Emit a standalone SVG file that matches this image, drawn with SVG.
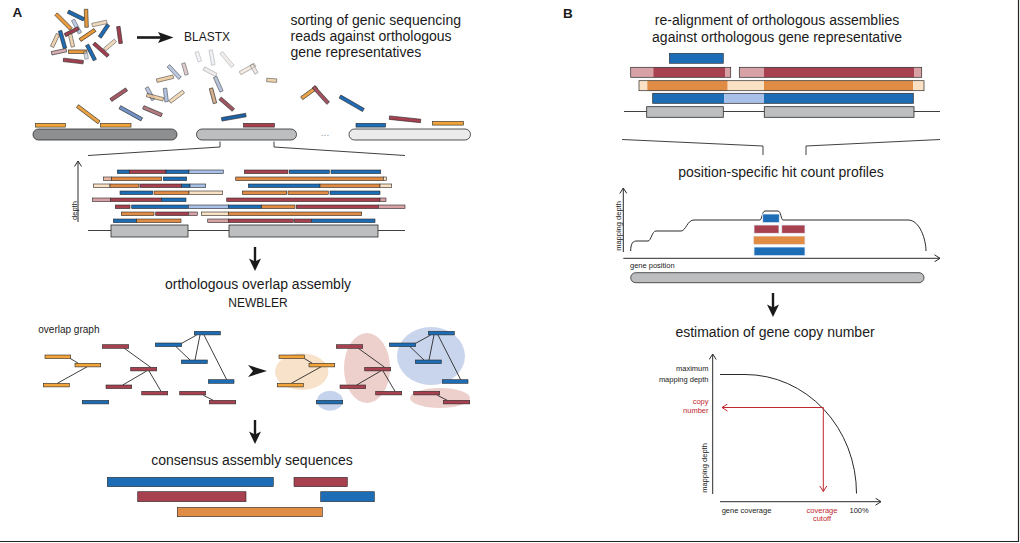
<svg xmlns="http://www.w3.org/2000/svg" width="1020" height="543" viewBox="0 0 1020 543">
<defs>
<style>
text{font-family:"Liberation Sans",Arial,sans-serif;fill:#1a1a1a}
.t14{font-size:14px}
.t11{font-size:12px}
.t10{font-size:10px}
.t7{font-size:7.5px}
.lab{font-size:13.5px;font-weight:bold}
.red{fill:#C0262D}
.s{stroke:#2a2a2a;stroke-width:0.6}
.b{fill:#1C6DB5}.r{fill:#A7404F}.o{fill:#E08C45}.lb{fill:#A9C0E8}.cr{fill:#FBE1C4}.pk{fill:#D7A1A6}.po{fill:#EBB9A0}.yo{fill:#F2A33A}
.gr{fill:#BDBEC0;stroke:#2a2a2a;stroke-width:0.8}
.ln{stroke:#2a2a2a;stroke-width:0.9;fill:none}
.ax{stroke:#2a2a2a;stroke-width:1;fill:none}
.rl{stroke:#C0262D;stroke-width:1;fill:none}
.ol{fill:none;stroke:#2a2a2a;stroke-width:0.7}
.pb{stroke:#E8F0FA;stroke-width:0.8}
</style>
<marker id="av" markerWidth="8" markerHeight="8" refX="6" refY="4" orient="auto" markerUnits="userSpaceOnUse"><path d="M0.5,0.5 L6,4 L0.5,7.5" fill="none" stroke="#2a2a2a" stroke-width="1"/></marker>
<marker id="avr" markerWidth="8" markerHeight="8" refX="6" refY="4" orient="auto" markerUnits="userSpaceOnUse"><path d="M0.5,0.5 L6,4 L0.5,7.5" fill="none" stroke="#C0262D" stroke-width="1"/></marker>
<g id="graph">
<g class="ln">
<line x1="70" y1="358.3" x2="78.3" y2="363.3"/><line x1="87.3" y1="366.7" x2="57.3" y2="383.3"/>
<line x1="124.3" y1="348.3" x2="150.7" y2="367.3"/><line x1="146.7" y1="371" x2="122.7" y2="385"/><line x1="149" y1="371" x2="161" y2="391.3"/>
<line x1="181.7" y1="343.3" x2="196.7" y2="335"/><line x1="176" y1="346.7" x2="190" y2="360"/><line x1="200" y1="335" x2="195" y2="360"/><line x1="204" y1="335" x2="226.7" y2="379.7"/>
<line x1="203.3" y1="395.3" x2="213.3" y2="400.3"/>
</g>
<rect class="s yo" x="45" y="355" width="25.7" height="3.6"/>
<rect class="s yo" x="75" y="363.3" width="25.7" height="3.6"/>
<rect class="s yo" x="43.3" y="383.3" width="26" height="3.6"/>
<rect class="s r" x="102.3" y="344.7" width="26.4" height="3.6"/>
<rect class="s r" x="130.7" y="367.3" width="26" height="3.6"/>
<rect class="s r" x="106" y="385" width="25.7" height="3.6"/>
<rect class="s r" x="141.7" y="391.3" width="26" height="3.6"/>
<rect class="s b" x="82.3" y="400.3" width="26.4" height="3.6"/>
<rect class="s b" x="194.3" y="331.3" width="26" height="3.6"/>
<rect class="s b" x="155.3" y="343" width="26.4" height="3.6"/>
<rect class="s b" x="181.3" y="360" width="26" height="3.6"/>
<rect class="s b" x="208.3" y="379.7" width="25.7" height="3.6"/>
<rect class="s r" x="179.7" y="391.3" width="26" height="3.6"/>
<rect class="s r" x="209.3" y="400.3" width="26.4" height="3.6"/>
</g>
</defs>

<rect x="0" y="0" width="1020" height="543" fill="#ffffff"/>
<line x1="1018.5" y1="0" x2="1018.5" y2="542" stroke="#222" stroke-width="1.2"/>
<line x1="0" y1="541.5" x2="1019" y2="541.5" stroke="#222" stroke-width="1.2"/>

<g id="panelA">
<text class="lab" x="12.5" y="17">A</text>

<g id="read-cluster">
<rect class="s" fill="#E89A3C" x="-10.5" y="-1.75" width="21" height="3.5" transform="translate(63.5 21.5) rotate(45)"/>
<rect class="s" fill="#1F6CB4" x="-8.75" y="-1.75" width="17.5" height="3.5" transform="translate(76 15.5) rotate(26)"/>
<rect class="s" fill="#E89A3C" x="-9" y="-1.75" width="18" height="3.5" transform="translate(86.3 18.3) rotate(88)"/>
<rect class="s" fill="#9FB5DC" opacity="0.7" x="-7.5" y="-1.75" width="15" height="3.5" transform="translate(76.5 26.5) rotate(62)"/>
<rect class="s" fill="#EAC9A0" opacity="0.7" x="-7.5" y="-1.75" width="15" height="3.5" transform="translate(99.5 23.5) rotate(-12)"/>
<rect class="s" fill="#1F6CB4" x="-7.5" y="-1.75" width="15" height="3.5" transform="translate(104 31) rotate(-56)"/>
<rect class="s" fill="#A0404F" x="-8.5" y="-1.75" width="17" height="3.5" transform="translate(119.5 35) rotate(82)"/>
<rect class="s" fill="#A0404F" x="-7.5" y="-1.75" width="15" height="3.5" transform="translate(71.7 31.7) rotate(-27)"/>
<rect class="s" fill="#E89A3C" x="-9" y="-1.75" width="18" height="3.5" transform="translate(87.5 35) rotate(-34)"/>
<rect class="s" fill="#1F6CB4" x="-9" y="-1.75" width="18" height="3.5" transform="translate(62.5 39.5) rotate(74)"/>
<rect class="s" fill="#EAC9A0" opacity="0.8" x="-7" y="-1.75" width="14" height="3.5" transform="translate(55 40.5) rotate(-65)"/>
<rect class="s" fill="#EAC9A0" opacity="0.8" x="-6.5" y="-1.75" width="13" height="3.5" transform="translate(71.5 40.5) rotate(77)"/>
<rect class="s" fill="#D9AEB2" x="-7.5" y="-1.75" width="15" height="3.5" transform="translate(59 51.7) rotate(-12)"/>
<rect class="s" fill="#E89A3C" x="-9" y="-1.75" width="18" height="3.5" transform="translate(77.5 51.7)"/>
<rect class="s" fill="#1F6CB4" x="-8.5" y="-1.75" width="17" height="3.5" transform="translate(91 52.5) rotate(63)"/>
<rect class="s" fill="#A0404F" x="-9.5" y="-1.75" width="19" height="3.5" transform="translate(101 49.7) rotate(41.6)"/>
<rect class="s" fill="#EAC9A0" opacity="0.7" x="-7" y="-1.75" width="14" height="3.5" transform="translate(110 45) rotate(-40)"/>
<rect class="s" fill="#A0404F" x="-10" y="-1.75" width="20" height="3.5" transform="translate(73.3 61) rotate(6.5)"/>
<rect class="s" fill="#B7C3D8" opacity="0.6" x="-4" y="-1.75" width="8" height="3.5" transform="translate(86 55) rotate(80)"/>
</g>

<g id="blastx-arrow">
<line x1="137" y1="37.5" x2="162" y2="37.5" stroke="#1a1a1a" stroke-width="2.6"/>
<polygon points="158,32 173.5,37.5 158,43 161,37.5" fill="#1a1a1a"/>
</g>
<text x="184" y="41" style="font-size:12px">BLASTX</text>
<text class="t14" x="290.5" y="24.5">sorting of genic sequencing</text>
<text class="t14" x="290.5" y="40.5">reads against orthologous</text>
<text class="t14" x="290.5" y="56.5">gene representatives</text>

<g id="scattered-reads">
<rect class="s" fill="#E9A040" x="-13.5" y="-1.75" width="27" height="3.5" transform="translate(88.2 114.2) rotate(37)"/>
<rect class="s" fill="#A55A65" x="-9.5" y="-1.75" width="19" height="3.5" transform="translate(118.7 94.7) rotate(-34)"/>
<rect class="s" fill="#7393C8" x="-12.5" y="-1.75" width="25" height="3.5" transform="translate(130.8 113.3) rotate(29)"/>
<rect class="s" fill="#B57C80" x="-10" y="-1.75" width="20" height="3.5" transform="translate(152.5 111.2) rotate(23)"/>
<rect class="s" fill="#A9B9DD" opacity="0.8" x="-7" y="-1.75" width="14" height="3.5" transform="translate(150 93.7) rotate(62)"/>
<rect class="s" fill="#EDC590" opacity="0.8" x="-8.5" y="-1.75" width="17" height="3.5" transform="translate(165 78.7) rotate(-13.5)"/>
<rect class="s" fill="#AABAD9" opacity="0.8" x="-8.5" y="-1.75" width="17" height="3.5" transform="translate(174.2 72) rotate(47)"/>
<rect class="s" fill="#D4B5B8" opacity="0.7" x="-6" y="-1.75" width="12" height="3.5" transform="translate(185 69) rotate(74)"/>
<rect class="s" fill="#EEC48E" opacity="0.8" x="-8.5" y="-1.75" width="17" height="3.5" transform="translate(155 97.2) rotate(14.5)"/>
<rect class="s" fill="#9FB3DB" opacity="0.8" x="-6.75" y="-1.75" width="13.5" height="3.5" transform="translate(165.8 95) rotate(83)"/>
<rect class="s" fill="#F0D2A8" opacity="0.8" x="-8.5" y="-1.75" width="17" height="3.5" transform="translate(176.7 96.7) rotate(-37)"/>
<rect class="s" fill="#DDE3EE" opacity="0.35" x="-5" y="-1.75" width="10" height="3.5" transform="translate(198.3 56.7) rotate(72)"/>
<rect class="s" fill="#D3DAEA" opacity="0.35" x="-7.5" y="-1.75" width="15" height="3.5" transform="translate(212 57.5) rotate(80)"/>
<rect class="s" fill="#D9C9C9" opacity="0.35" x="-9" y="-1.75" width="18" height="3.5" transform="translate(227 59.5) rotate(50)"/>
<rect class="s" fill="#D9D2D2" opacity="0.4" x="-7" y="-1.75" width="14" height="3.5" transform="translate(210 71.7) rotate(28)"/>
<rect class="s" fill="#A8B8D8" opacity="0.8" x="-8" y="-1.75" width="16" height="3.5" transform="translate(218.3 84.2) rotate(66)"/>
<rect class="s" fill="#D6B08A" x="-7.75" y="-1.75" width="15.5" height="3.5" transform="translate(213 95.8) rotate(75)"/>
<rect class="s" fill="#9E5560" x="-8.8" y="-1.75" width="17.6" height="3.5" transform="translate(226.7 104.2) rotate(41)"/>
<rect class="s" fill="#1F63A6" x="-12.3" y="-1.75" width="24.6" height="3.5" transform="translate(233.8 117.2) rotate(-10)"/>
<rect class="s" fill="#EAD8C8" opacity="0.5" x="-8.5" y="-1.75" width="17" height="3.5" transform="translate(247.5 69) rotate(-29)"/>
<rect class="s" fill="#E3D1CF" opacity="0.5" x="-5" y="-1.75" width="10" height="3.5" transform="translate(254 69) rotate(60)"/>
<rect class="s" fill="#EDCB96" opacity="0.8" x="-5" y="-1.75" width="10" height="3.5" transform="translate(271.7 80.3) rotate(4)"/>
<rect class="s" fill="#E9A248" x="-9.3" y="-1.75" width="18.6" height="3.5" transform="translate(309.2 92.8) rotate(-36)"/>
<rect class="s" fill="#A0525E" x="-11" y="-1.75" width="22" height="3.5" transform="translate(320.8 95) rotate(48)"/>
<rect class="s" fill="#1F6CB4" x="-13.5" y="-1.75" width="27" height="3.5" transform="translate(351.7 103.3) rotate(30)"/>
<rect class="s" fill="#A7404F" x="-15.7" y="-1.75" width="31.4" height="3.5" transform="translate(405 119.3) rotate(6)"/>
</g>

<g id="gene-bars">
<rect x="33" y="129" width="144" height="11" rx="5.5" fill="#8E8F91" stroke="#2a2a2a" stroke-width="0.8"/>
<rect x="196.5" y="129" width="100" height="11" rx="5.5" fill="#BDBEC0" stroke="#2a2a2a" stroke-width="0.8"/>
<rect x="349" y="129" width="121.5" height="11" rx="5.5" fill="#EBEBEB" stroke="#2a2a2a" stroke-width="0.8"/>
<text x="325" y="136" text-anchor="middle" style="font-size:10px;fill:#999">...</text>
<rect class="s yo" x="35.5" y="123.3" width="30" height="3.8"/>
<rect class="s yo" x="100.5" y="123.3" width="30.5" height="3.8"/>
<rect class="s r" x="243.5" y="123.3" width="31" height="3.8"/>
<rect class="s b" x="356" y="123.3" width="29.5" height="3.8"/>
<rect class="s yo" x="432.5" y="121.3" width="31" height="3.8"/>
</g>

<g id="zoom-lines-a" class="ln">
<polyline points="88,155.5 220,147 220,141.5"/>
<polyline points="274,141.5 274,147 405,155.5"/>
</g>

<g id="depth-stack">
<line x1="78" y1="222" x2="78" y2="161" class="ax" marker-end="url(#av)"/>
<text class="t7" transform="translate(76.5 210.5) rotate(-90)" text-anchor="middle">depth</text>
<g class="ln"><line x1="88" y1="230.5" x2="111" y2="230.5"/><line x1="188" y1="230.5" x2="229" y2="230.5"/><line x1="378" y1="230.5" x2="405" y2="230.5"/></g>
<rect class="gr" x="111" y="225" width="77" height="12"/>
<rect class="gr" x="229" y="225" width="149" height="12"/>
<rect class="s b" x="117.3" y="170" width="12" height="3.6"/><rect class="s r" x="129.3" y="170" width="36.7" height="3.6"/><rect class="s b" x="166" y="170" width="23" height="3.6"/><rect class="s lb" x="189" y="170" width="34.3" height="3.6"/>
<rect class="s r" x="244.3" y="170" width="43.7" height="3.6"/><rect class="s b" x="289.3" y="170" width="40" height="3.6"/><rect class="s b" x="331" y="170" width="49.7" height="3.6"/>
<rect class="s po" x="103.3" y="177" width="8.4" height="3.6"/><rect class="s o" x="111.7" y="177" width="50" height="3.6"/><rect class="s b" x="163.3" y="177" width="23.4" height="3.6"/>
<rect class="s o" x="235.7" y="177" width="147.6" height="3.6"/><rect class="s cr" x="383.3" y="177" width="3.4" height="3.6"/>
<rect class="s cr" x="93.3" y="184" width="16.7" height="3.6"/><rect class="s o" x="110" y="184" width="29" height="3.6"/><rect class="s r" x="140" y="184" width="41.7" height="3.6"/><rect class="s b" x="181.7" y="184" width="8.3" height="3.6"/><rect class="s lb" x="190" y="184" width="15.7" height="3.6"/>
<rect class="s b" x="248.3" y="184" width="71.7" height="3.6"/><rect class="s o" x="320" y="184" width="60" height="3.6"/><rect class="s cr" x="380" y="184" width="11.7" height="3.6"/>
<rect class="s b" x="120" y="191" width="32.7" height="3.6"/><rect class="s o" x="154" y="191" width="35" height="3.6"/><rect class="s cr" x="189" y="191" width="33.7" height="3.6"/>
<rect class="s o" x="242.3" y="191" width="44.4" height="3.6"/><rect class="s o" x="288" y="191" width="40.3" height="3.6"/><rect class="s b" x="330" y="191" width="50" height="3.6"/>
<rect class="s pk" x="92.3" y="198" width="18.4" height="3.6"/><rect class="s r" x="110.7" y="198" width="51" height="3.6"/><rect class="s b" x="161.7" y="198" width="24.3" height="3.6"/>
<rect class="s r" x="226.7" y="198" width="153.3" height="3.6"/><rect class="s pk" x="380" y="198" width="6" height="3.6"/>
<rect class="s r" x="115.3" y="205" width="14.7" height="3.6"/><rect class="s b" x="131.7" y="205" width="56.6" height="3.6"/><rect class="s lb" x="188.3" y="205" width="40" height="3.6"/><rect class="s b" x="228.3" y="205" width="33.4" height="3.6"/><rect class="s o" x="261.7" y="205" width="33.3" height="3.6"/><rect class="s r" x="296.3" y="205" width="82" height="3.6"/><rect class="s pk" x="378.3" y="205" width="26.7" height="3.6"/>
<rect class="s o" x="121.3" y="212" width="32.7" height="3.6"/><rect class="s r" x="155.7" y="212" width="32.6" height="3.6"/><rect class="s pk" x="188.3" y="212" width="9" height="3.6"/>
<rect class="s cr" x="201.3" y="212" width="27" height="3.6"/><rect class="s o" x="228.3" y="212" width="133.4" height="3.6"/>
<rect class="s b" x="113.3" y="219" width="23.4" height="3.6"/><rect class="s o" x="136.7" y="219" width="44.3" height="3.6"/>
<rect class="s pk" x="207.7" y="219" width="20.6" height="3.6"/><rect class="s r" x="228.3" y="219" width="65" height="3.6"/><rect class="s r" x="294.3" y="219" width="17.4" height="3.6"/><rect class="s b" x="311.7" y="219" width="63.3" height="3.6"/>
</g>

<g id="arrow-a1">
<line x1="255" y1="247" x2="255" y2="262" stroke="#1a1a1a" stroke-width="2.4"/>
<polygon points="249,258.5 255,261.5 261,258.5 255,271" fill="#1a1a1a"/>
</g>
<text class="t14" x="258" y="289" text-anchor="middle">orthologous overlap assembly</text>
<text class="t11" x="258" y="307" text-anchor="middle">NEWBLER</text>

<g id="overlap-graph">
<text class="t10" x="38.3" y="333">overlap graph</text>
<use href="#graph"/>
</g>
<polygon id="arrow-graph" points="248,365 267,371 248,377 253,371" fill="#1a1a1a"/>
<g id="clustered-graph">
<ellipse cx="301.7" cy="371.7" rx="26.7" ry="18.3" fill="#F8E2C9"/>
<ellipse cx="330" cy="400.7" rx="13" ry="10" fill="#C5D3EC"/>
<ellipse cx="367" cy="368" rx="23" ry="35" fill="#EDD0CC"/>
<ellipse cx="431" cy="356" rx="34" ry="29" fill="#C9D5EC"/>
<ellipse cx="440" cy="398" rx="30" ry="10" fill="#EDD0CC"/>
<use href="#graph" transform="translate(234 0)"/>
</g>

<g id="arrow-a2">
<line x1="255" y1="420" x2="255" y2="435" stroke="#1a1a1a" stroke-width="2.4"/>
<polygon points="249,431.5 255,434.5 261,431.5 255,444" fill="#1a1a1a"/>
</g>
<text class="t14" x="252" y="465" text-anchor="middle">consensus assembly sequences</text>
<g id="consensus">
<rect class="s b" x="107.3" y="477.3" width="166" height="9.4"/>
<rect class="s r" x="294" y="477.3" width="53.3" height="9.4"/>
<rect class="s r" x="137.7" y="491.7" width="108.3" height="10"/>
<rect class="s b" x="320.7" y="491.7" width="53.6" height="10"/>
<rect class="s o" x="177.3" y="507.3" width="145" height="9.4"/>
</g>
</g>

<g id="panelB">
<text class="lab" x="563" y="18">B</text>
<text class="t14" x="777" y="24.5" text-anchor="middle">re-alignment of orthologous assemblies</text>
<text class="t14" x="777" y="41.5" text-anchor="middle">against orthologous gene representative</text>

<g id="realign">
<rect class="s b" x="669.3" y="53.3" width="54" height="10"/>
<rect class="pk" x="630.7" y="67.3" width="22.6" height="10"/><rect class="r" x="653.3" y="67.3" width="71.7" height="10"/><rect class="pk" x="725" y="67.3" width="5.7" height="10"/>
<rect class="ol" x="630.7" y="67.3" width="100" height="10"/>
<rect class="pk" x="739.3" y="67.3" width="24.7" height="10"/><rect class="r" x="764" y="67.3" width="150" height="10"/><rect class="pk" x="914" y="67.3" width="7.7" height="10"/>
<rect class="ol" x="739.3" y="67.3" width="182.4" height="10"/>
<rect class="cr" x="639" y="80.7" width="8.3" height="10"/><rect class="o" x="647.3" y="80.7" width="80.4" height="10"/><rect class="cr" x="727.7" y="80.7" width="36.3" height="10"/><rect class="o" x="764" y="80.7" width="149.3" height="10"/><rect class="cr" x="913.3" y="80.7" width="10.7" height="10"/>
<rect class="ol" x="639" y="80.7" width="285" height="10"/>
<rect class="b" x="652.7" y="93.3" width="71.6" height="10"/><rect class="lb" x="724.3" y="93.3" width="39.7" height="10"/><rect class="b" x="764" y="93.3" width="149.3" height="10"/>
<rect class="ol" x="652.7" y="93.3" width="260.6" height="10"/>
<g class="ln"><line x1="624" y1="111.5" x2="646.7" y2="111.5"/><line x1="723.3" y1="111.5" x2="764.3" y2="111.5"/><line x1="914" y1="111.5" x2="940" y2="111.5"/></g>
<rect class="gr" x="646.7" y="106.7" width="76.6" height="10.6"/>
<rect class="gr" x="764.3" y="106.7" width="149.7" height="10.6"/>
</g>

<g id="zoom-lines-b" class="ln">
<polyline points="622,139.5 763,146 763,155"/>
<polyline points="940,139.5 806,146 806,155"/>
</g>

<text class="t14" x="781" y="177" text-anchor="middle">position-specific hit count profiles</text>
<g id="profile">
<line class="ax" x1="623.3" y1="252" x2="623.3" y2="188" marker-end="url(#av)"/>
<line class="ax" x1="623.3" y1="258.3" x2="940" y2="258.3" marker-end="url(#av)"/>
<text class="t7" transform="translate(620.5 226) rotate(-90)" text-anchor="middle">mapping depth</text>
<text class="t7" x="630" y="267.5">gene position</text>
<rect x="630.7" y="272.7" width="293.3" height="10" rx="5" fill="#BDBEC0" stroke="#2a2a2a" stroke-width="0.8"/>
<path class="ax" d="M630.7,251 C630.7,243 633,241 637,241 L648,241 C651,241 652,231 656,231 L681,231 C686,231 687,220 694,220 L760,220 C762,220 762,211 765,211 L778,211 C781,211 781,220 783,220 L908,220 C920,220 926,240 926,251"/>
<rect class="b pb" x="762.7" y="214" width="16.6" height="8.7"/>
<rect class="r pb" x="754" y="225" width="25" height="8.3"/>
<rect class="r pb" x="781.7" y="225" width="23.3" height="8.3"/>
<rect class="o pb" x="753.3" y="236" width="51.7" height="8.7"/>
<rect class="b pb" x="754" y="247" width="51" height="8.7"/>
</g>

<g id="arrow-b1">
<line x1="773" y1="293" x2="773" y2="308" stroke="#1a1a1a" stroke-width="2.4"/>
<polygon points="767,304.5 773,307.5 779,304.5 773,317" fill="#1a1a1a"/>
</g>
<text class="t14" x="775" y="337" text-anchor="middle">estimation of gene copy number</text>

<g id="copy-number">
<line class="ax" x1="712.7" y1="494" x2="712.7" y2="354" marker-end="url(#av)"/>
<line class="ax" x1="720" y1="501.7" x2="881" y2="501.7" marker-end="url(#av)"/>
<text class="t7" x="708.5" y="371" text-anchor="end">maximum</text>
<text class="t7" x="708.5" y="381.5" text-anchor="end">mapping depth</text>
<text class="t7" transform="translate(706.5 468) rotate(-90)" text-anchor="middle">mapping depth</text>
<path class="ax" d="M720,374.5 L745,374.5 A111.5 119 0 0 1 856.5 493.5"/>
<line class="rl" x1="823.3" y1="407.5" x2="722" y2="407.5" marker-end="url(#avr)"/>
<line class="rl" x1="823.3" y1="407.5" x2="823.3" y2="491.5" marker-end="url(#avr)"/>
<text class="t7 red" x="708.5" y="404" text-anchor="end">copy</text>
<text class="t7 red" x="708.5" y="413" text-anchor="end">number</text>
<text class="t7" x="721.7" y="512.5">gene coverage</text>
<text class="t7 red" x="822" y="512.5" text-anchor="middle">coverage</text>
<text class="t7 red" x="822" y="521" text-anchor="middle">cutoff</text>
<text class="t7" x="849.5" y="512.5">100%</text>
</g>
</g>
</svg>
